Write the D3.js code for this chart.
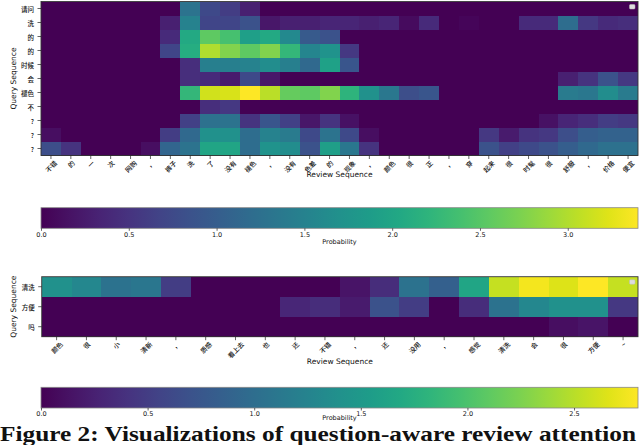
<!DOCTYPE html>
<html>
<head>
<meta charset="utf-8">
<script src="https://cdn.jsdelivr.net/npm/d3@7"></script>
<style>
  body { margin: 0; background: #fff; }
  svg { display: block; }
</style>
</head>
<body>
<svg id="chart" width="640" height="445"></svg>
<script>
// ---- data: first example (review of trousers) ----
const reviewTop = ["不错", "的", "一", "次", "网购", "，", "裤子", "洗", "了", "没有", "褪色", "，", "没有", "色差", "的",
  "现象", "，", "颜色", "很", "正", "，", "穿", "起来", "很", "时髦", "很", "舒服", "，", "价格", "便宜"];
const queryTop = ["请问", "洗", "的", "的", "时候", "会", "褪色", "不", "?", "?", "?"];
const attnTop = [
  [0, 0, 0, 0, 0, 0, 0, 1.3, 0.75, 0.6, 0.3, 0, 0, 0, 0, 0, 0, 0, 0, 0, 0, 0, 0, 0, 0, 0, 0, 0, 0, 0],
  [0, 0, 0, 0, 0, 0, 0.3, 1.5, 0.7, 0.7, 0.85, 0.2, 0.3, 0.3, 0.35, 0.35, 0.3, 0.35, 0.1, 0.4, 0, 0.05, 0, 0, 0.4, 0.4, 1.2, 0.55, 0.4, 0.45],
  [0, 0, 0, 0, 0, 0, 0.4, 2.05, 2.55, 2.4, 1.9, 2.05, 1.6, 0.95, 0.85, 0, 0, 0, 0, 0, 0, 0, 0, 0, 0, 0, 0, 0, 0, 0],
  [0, 0, 0, 0, 0, 0, 0.7, 2.1, 3.0, 2.75, 2.55, 2.75, 2.25, 1.55, 1.75, 0.55, 0, 0, 0, 0, 0, 0, 0, 0, 0, 0, 0, 0, 0, 0],
  [0, 0, 0, 0, 0, 0, 0, 0.45, 1.45, 1.45, 1.5, 1.65, 1.45, 1.15, 1.95, 0.9, 0, 0, 0, 0, 0, 0, 0, 0, 0, 0, 0, 0, 0, 0],
  [0, 0, 0, 0, 0, 0, 0, 0.45, 0.4, 0.25, 0.75, 0.2, 0, 0, 0, 0, 0, 0, 0, 0, 0, 0, 0, 0, 0, 0, 0.3, 0.5, 0.85, 0.55],
  [0, 0, 0, 0, 0, 0, 0, 2.25, 3.15, 3.2, 3.4, 3.05, 2.6, 2.55, 2.75, 2.2, 1.7, 1.35, 0.8, 0.9, 0, 0, 0, 0, 0, 0, 1.4, 1.35, 1.65, 1.4],
  [0, 0, 0, 0, 0, 0, 0, 0, 0.45, 0.55, 0, 0, 0, 0, 0, 0, 0, 0, 0, 0, 0, 0, 0, 0, 0, 0, 0, 0, 0, 0],
  [0, 0, 0, 0, 0, 0, 0, 0.65, 1.25, 1.3, 0.5, 0.9, 0.65, 0.2, 0.5, 0.15, 0, 0, 0, 0, 0, 0, 0, 0, 0, 0.15, 0.35, 0.45, 0.6, 0.55],
  [0.12, 0, 0, 0, 0, 0, 0.6, 1.15, 1.7, 1.7, 1.2, 1.5, 1.4, 0.75, 1.3, 0.75, 0.12, 0, 0, 0, 0, 0, 0.55, 0.25, 0.5, 0.55, 0.8, 1.0, 1.05, 1.05],
  [0.8, 0.5, 0, 0, 0, 0.12, 1.1, 1.3, 2.0, 2.0, 1.2, 1.75, 1.65, 0.85, 1.9, 1.35, 0.5, 0, 0, 0, 0, 0, 0.85, 0.65, 0.75, 0.85, 1.0, 1.15, 1.25, 1.25]
];
const maxTop = 3.4;
const ticksTop = [0, 0.5, 1.0, 1.5, 2.0, 2.5, 3.0];

// ---- data: second example (cleaning) ----
const reviewBottom = ["颜色", "很", "小", "清新", "，", "质感", "看上去", "也", "还", "不错",
  "，", "还", "没用", "，", "感觉", "清洗", "会", "很", "方便", "~"];
const queryBottom = ["清洗", "方便", "吗"];
const attnBottom = [
  [1.4, 1.3, 1.05, 1.1, 0.5, 0, 0, 0, 0, 0, 0.15, 0.35, 1.05, 0.85, 1.65, 2.55, 2.75, 2.65, 2.8, 2.55],
  [0, 0, 0, 0, 0, 0, 0, 0, 0.3, 0.35, 0.2, 0.7, 0.5, 0, 0.35, 1.05, 1.3, 1.4, 1.4, 0.45],
  [0, 0, 0, 0, 0, 0, 0, 0, 0, 0, 0, 0, 0, 0, 0, 0, 0, 0.1, 0.15, 0]
];
const maxBottom = 2.8;
const ticksBottom = [0, 0.5, 1.0, 1.5, 2.0, 2.5];

const svg = d3.select("#chart");
const cjk = "'Noto Sans CJK SC', 'Noto Sans', sans-serif";
const sans = "'DejaVu Sans', sans-serif";

function heatmap(review, query, values, vmax, box) {
  const x = d3.scaleBand().domain(review.map((d, i) => i)).range([box.x0, box.x1]);
  const y = d3.scaleBand().domain(query.map((d, i) => i)).range([box.y0, box.y1]);
  const color = d3.scaleSequential(d3.interpolateViridis).domain([0, vmax]);

  const g = svg.append("g");
  const cells = [];
  values.forEach((row, r) => row.forEach((v, c) => cells.push({ r, c, v })));

  g.selectAll("rect.cell")
    .data(cells)
    .join("rect")
    .attr("class", "cell")
    .attr("x", d => x(d.c))
    .attr("y", d => y(d.r))
    .attr("width", d => d.c === review.length - 1 ? x.bandwidth() : x.bandwidth() + 1)
    .attr("height", d => d.r === query.length - 1 ? y.bandwidth() : y.bandwidth() + 1)
    .attr("shape-rendering", "crispEdges")
    .attr("fill", d => color(d.v));

  g.append("rect")
    .attr("x", box.x0).attr("y", box.y0)
    .attr("width", box.x1 - box.x0).attr("height", box.y1 - box.y0)
    .attr("fill", "none").attr("stroke", "#333").attr("stroke-width", 0.9);

  // small toolbar glyph in the corner
  g.append("rect")
    .attr("x", box.x1 - 8.5).attr("y", box.y0 + 3)
    .attr("width", 5.5).attr("height", 4.5).attr("rx", 1)
    .attr("fill", "#ddd").attr("stroke", "#bbb").attr("stroke-width", 0.5);

  // y ticks + labels
  query.forEach((q, i) => {
    const cy = y(i) + y.bandwidth() / 2;
    g.append("line").attr("x1", box.x0 - 3.5).attr("x2", box.x0).attr("y1", cy).attr("y2", cy)
      .attr("stroke", "#222").attr("stroke-width", 0.7);
    g.append("text").attr("x", box.x0 - 7).attr("y", cy)
      .attr("text-anchor", "end").attr("dominant-baseline", "central")
      .attr("font-family", cjk).attr("font-size", 6.5).attr("font-weight", 500).attr("fill", "#111")
      .text(q);
  });

  // x ticks + rotated labels (centred under tick, top aligned)
  review.forEach((t, i) => {
    const cx = x(i) + x.bandwidth() / 2;
    g.append("line").attr("x1", cx).attr("x2", cx).attr("y1", box.y1).attr("y2", box.y1 + 3.5)
      .attr("stroke", "#222").attr("stroke-width", 0.7);
    const txt = g.append("text")
      .attr("text-anchor", "middle").attr("dominant-baseline", "central")
      .attr("font-family", cjk).attr("font-size", 6.5).attr("font-weight", 500).attr("fill", "#111")
      .text(t);
    const w = txt.node().getComputedTextLength();
    const s = (w + 6.5) / Math.SQRT2;
    txt.attr("transform", `translate(${cx},${box.y1 + 3.8 + s / 2}) rotate(-45)`);
  });

  g.append("text")
    .attr("x", (box.x0 + box.x1) / 2).attr("y", box.labelY)
    .attr("text-anchor", "middle").attr("dominant-baseline", "central")
    .attr("font-family", sans).attr("font-size", 7.5).attr("fill", "#111")
    .text("Review Sequence");

  g.append("text")
    .attr("transform", `translate(13,${(box.y0 + box.y1) / 2}) rotate(-90)`)
    .attr("text-anchor", "middle").attr("dominant-baseline", "central")
    .attr("font-family", sans).attr("font-size", 7.5).attr("fill", "#111")
    .text("Query Sequence");
}

function colorbar(id, vmax, ticks, box) {
  const defs = svg.append("defs");
  const grad = defs.append("linearGradient").attr("id", id)
    .attr("x1", "0%").attr("x2", "100%").attr("y1", "0%").attr("y2", "0%");
  d3.range(0, 1.0001, 0.05).forEach(t => {
    grad.append("stop").attr("offset", `${t * 100}%`).attr("stop-color", d3.interpolateViridis(t));
  });
  const x = d3.scaleLinear().domain([0, vmax]).range([box.x0, box.x1]);
  svg.append("rect")
    .attr("x", box.x0).attr("y", box.y0)
    .attr("width", box.x1 - box.x0).attr("height", box.y1 - box.y0)
    .attr("fill", `url(#${id})`).attr("stroke", "#888").attr("stroke-width", 0.8);

  const axis = d3.axisBottom(x).tickValues(ticks).tickFormat(d3.format(".1f")).tickSize(2.5).tickPadding(1.2);
  const ax = svg.append("g").attr("transform", `translate(0,${box.y1})`).call(axis);
  ax.select(".domain").remove();
  ax.selectAll(".tick line").attr("stroke", "#222").attr("stroke-width", 0.7);
  ax.selectAll(".tick text").attr("font-family", sans).attr("font-size", 6.5).attr("fill", "#111");

  svg.append("text")
    .attr("x", (box.x0 + box.x1) / 2).attr("y", box.labelY)
    .attr("text-anchor", "middle").attr("dominant-baseline", "central")
    .attr("font-family", sans).attr("font-size", 6.5).attr("fill", "#111")
    .text("Probability");
}

heatmap(reviewTop, queryTop, attnTop, maxTop, { x0: 41, x1: 638, y0: 1.5, y1: 155.5, labelY: 174.5 });
colorbar("cbTop", maxTop, ticksTop, { x0: 41, x1: 638, y0: 207.7, y1: 228.3, labelY: 241.7 });
heatmap(reviewBottom, queryBottom, attnBottom, maxBottom, { x0: 41.7, x1: 638, y0: 276.7, y1: 336.7, labelY: 361 });
colorbar("cbBottom", maxBottom, ticksBottom, { x0: 41, x1: 638, y0: 387.3, y1: 408, labelY: 417.5 });

svg.append("text")
  .attr("x", 0).attr("y", 440.5)
  .attr("font-family", "'Liberation Serif', 'DejaVu Serif', serif")
  .attr("font-size", 21).attr("font-weight", "bold").attr("fill", "#111")
  .attr("textLength", 636).attr("lengthAdjust", "spacingAndGlyphs")
  .text("Figure 2: Visualizations of question-aware review attention");
</script>
</body>
</html>
